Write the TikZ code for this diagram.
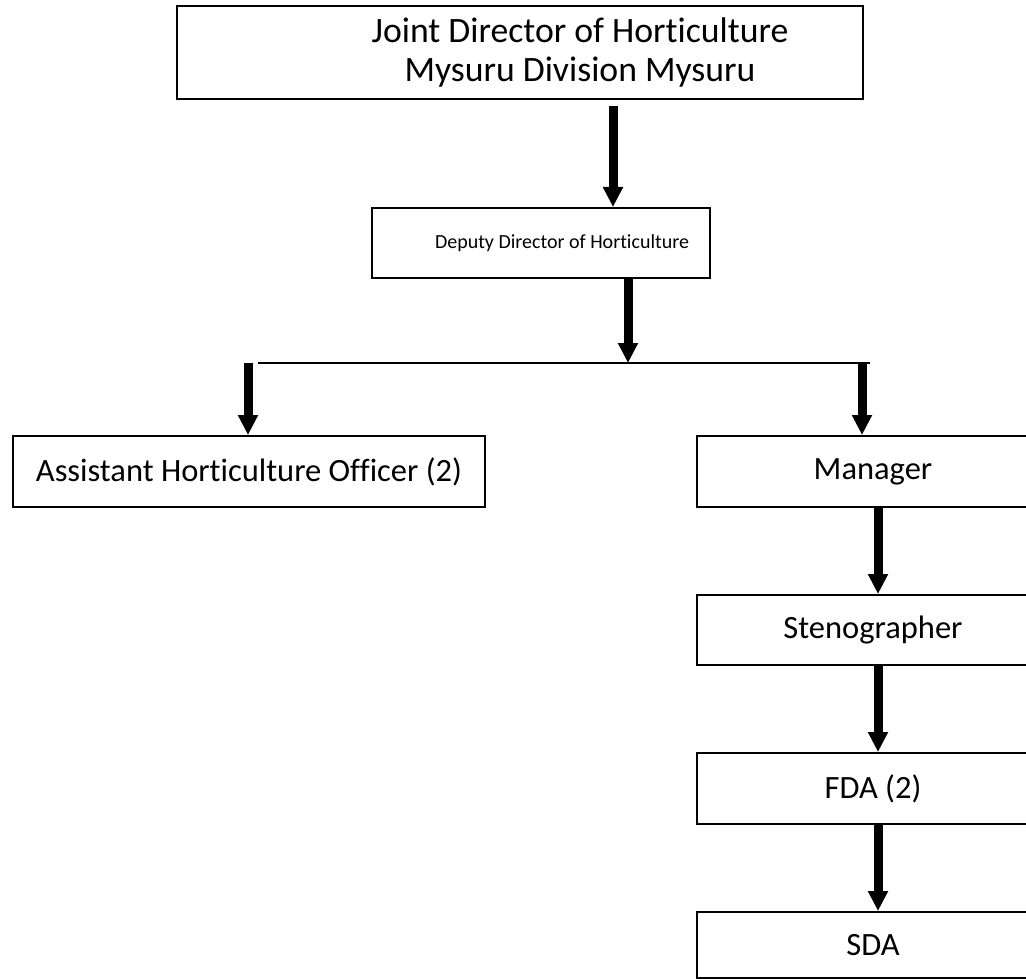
\documentclass[tikz,border=0pt]{standalone}
\usepackage{fontspec}
\setmainfont{Carlito}[Ligatures=NoCommon]
\usepackage{tikz}
\usetikzlibrary{arrows.meta,positioning}
\tikzset{
  org box/.style={rectangle,draw,line width=2pt,inner sep=0pt,minimum height=70pt,
    font=\fontsize{32.5}{38}\selectfont},
  org head/.style={org box,line width=2.6pt,minimum height=93pt,align=center,
    font=\fontsize{35.7}{39}\selectfont},
  org staff/.style={org box,minimum width=352pt},
  org arrow/.style={-{Triangle[width=19pt,length=20pt]},line width=9pt},
  org bus/.style={line width=2pt}
}
\begin{document}
\begin{tikzpicture}[x=1pt,y=-1pt,node distance=86pt]
  \useasboundingbox (0,0) rectangle (1026,979);
  \node[org head,minimum width=686pt] (jdh) at (520,52.5)
    {\hspace*{120pt}Joint Director of Horticulture\\\hspace*{120pt}Mysuru Division Mysuru};
  \node[org box,minimum width=338pt,font=\fontsize{20}{24}\selectfont] (ddh) at (541,243)
    {\hspace*{42pt}Deputy Director of Horticulture};
  \node[org box,minimum width=472pt,minimum height=71pt] (aho) at (249,471.5)
    {Assistant Horticulture Officer (2)};
  \node[org staff,minimum height=71pt] (mgr) at (873,471.5) {Manager};
  \node[org staff,below=of mgr] (steno) {Stenographer};
  \node[org staff,below=of steno,minimum height=71pt] (fda) {FDA (2)};
  \node[org staff,below=of fda,minimum height=66pt] (sda) {SDA};
  % branch line
  \coordinate (busL) at (258,363);
  \coordinate (busR) at (870,363);
  \draw[org bus] (busL) -- (busR);
  \draw[org arrow,shorten <=6pt] ([xshift=93pt]jdh.south) -- ([xshift=72pt]ddh.north);
  \draw[org arrow] ([xshift=87pt]ddh.south) -- ([xshift=87pt]ddh.south |- busL);
  \draw[org arrow] ([xshift=-1pt]aho.north |- busL) -- ([xshift=-1pt]aho.north);
  \draw[org arrow] ([xshift=-11pt]mgr.north |- busR) -- ([xshift=-11pt]mgr.north);
  \draw[org arrow] ([xshift=5pt]mgr.south) -- ([xshift=5pt]steno.north);
  \draw[org arrow] ([xshift=5pt]steno.south) -- ([xshift=5pt]fda.north);
  \draw[org arrow] ([xshift=5pt]fda.south) -- ([xshift=5pt]sda.north);
\end{tikzpicture}
\end{document}
